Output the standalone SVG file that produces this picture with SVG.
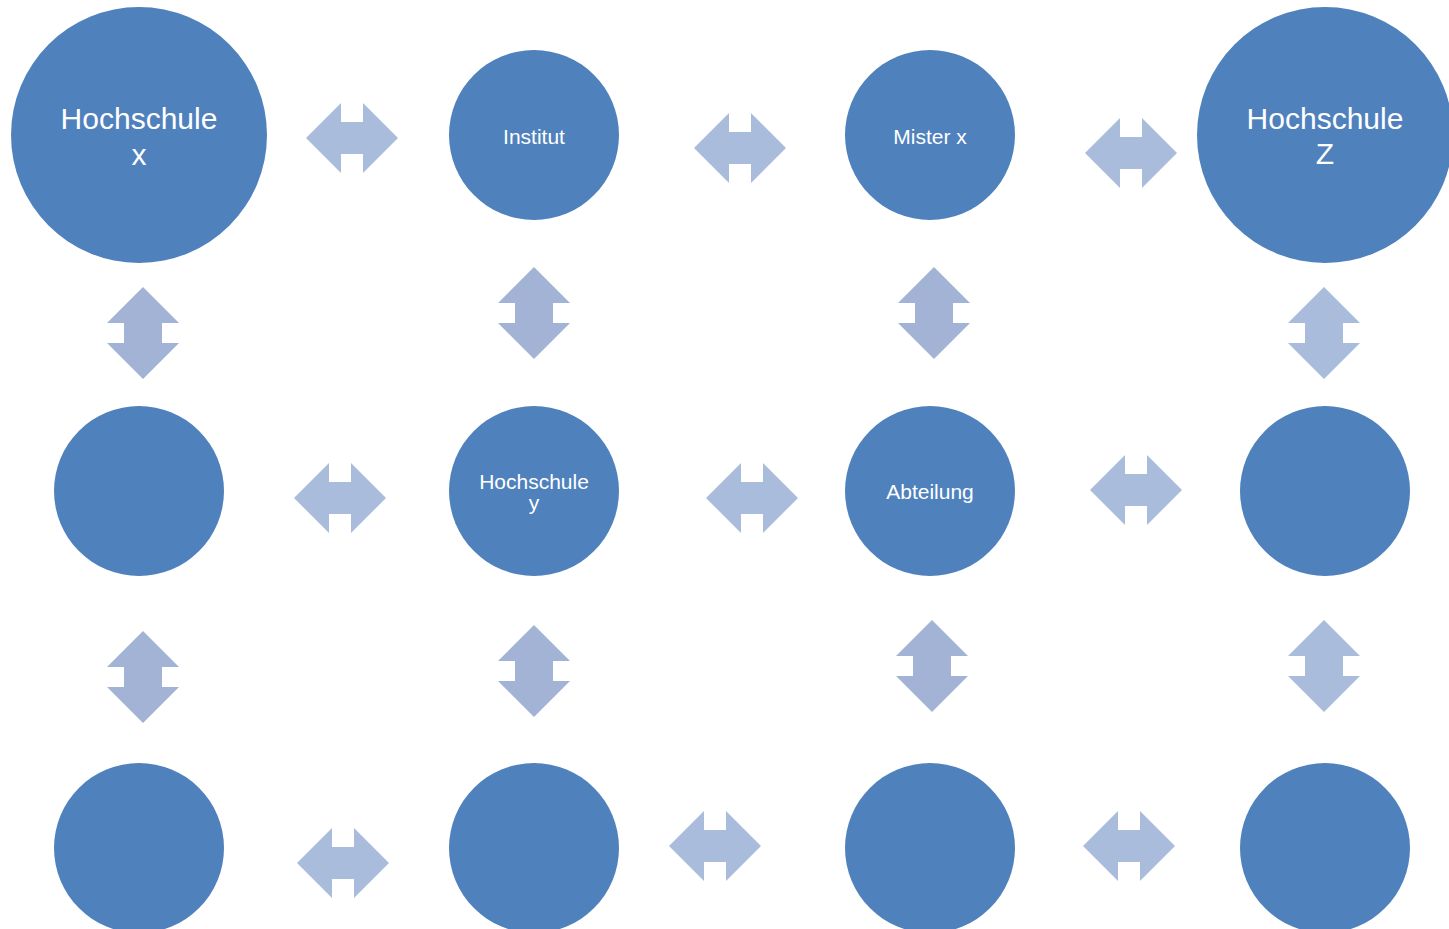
<svg xmlns="http://www.w3.org/2000/svg" width="1449" height="929" viewBox="0 0 1449 929">
<style>
.n{fill:#4F81BD}
.t{fill:#FFFFFF;font-family:"Liberation Sans",Arial,sans-serif;text-anchor:middle}
.big{font-size:30px}
.sm{font-size:21px}
.a{fill:#AABCDC}
.d{fill:#A2B3D6}
</style>
<defs>
<polygon id="h" points="-46,0 -11,-35 -11,-16 11,-16 11,-35 46,0 11,35 11,16 -11,16 -11,35"/>
<polygon id="v" points="0,-46 36,-10 19,-10 19,10 36,10 0,46 -36,10 -19,10 -19,-10 -36,-10"/>
</defs>
<rect width="1449" height="929" fill="#FFFFFF"/>
<g id="connectors">
<use href="#h" class="a" x="352" y="138"/>
<use href="#h" class="a" x="740" y="148"/>
<use href="#h" class="a" x="1131" y="153"/>
<use href="#h" class="a" x="340" y="498"/>
<use href="#h" class="a" x="752" y="498"/>
<use href="#h" class="a" x="1136" y="490"/>
<use href="#h" class="a" x="343" y="863"/>
<use href="#h" class="a" x="715" y="846"/>
<use href="#h" class="a" x="1129" y="846"/>
<use href="#v" class="d" x="143" y="333"/>
<use href="#v" class="d" x="143" y="677"/>
<use href="#v" class="d" x="534" y="313"/>
<use href="#v" class="d" x="534" y="671"/>
<use href="#v" class="d" x="934" y="313"/>
<use href="#v" class="d" x="932" y="666"/>
<use href="#v" class="a" x="1324" y="333"/>
<use href="#v" class="a" x="1324" y="666"/>
</g>
<g id="hochschule-x"><circle class="n" cx="139" cy="135" r="128"/><text class="t big" x="139" y="129">Hochschule</text><text class="t big" x="139" y="165">x</text></g>
<g id="institut"><circle class="n" cx="534" cy="135" r="85"/><text class="t sm" x="534" y="144">Institut</text></g>
<g id="mister-x"><circle class="n" cx="930" cy="135" r="85"/><text class="t sm" x="930" y="144">Mister x</text></g>
<g id="hochschule-z"><circle class="n" cx="1325" cy="135" r="128"/><text class="t big" x="1325" y="129">Hochschule</text><text class="t big" x="1325" y="164">Z</text></g>
<g id="r2c1"><circle class="n" cx="139" cy="491" r="85"/></g>
<g id="hochschule-y"><circle class="n" cx="534" cy="491" r="85"/><text class="t sm" x="534" y="489">Hochschule</text><text class="t sm" x="534" y="510">y</text></g>
<g id="abteilung"><circle class="n" cx="930" cy="491" r="85"/><text class="t sm" x="930" y="499">Abteilung</text></g>
<g id="r2c4"><circle class="n" cx="1325" cy="491" r="85"/></g>
<g id="r3c1"><circle class="n" cx="139" cy="848" r="85"/></g>
<g id="r3c2"><circle class="n" cx="534" cy="848" r="85"/></g>
<g id="r3c3"><circle class="n" cx="930" cy="848" r="85"/></g>
<g id="r3c4"><circle class="n" cx="1325" cy="848" r="85"/></g>
</svg>
